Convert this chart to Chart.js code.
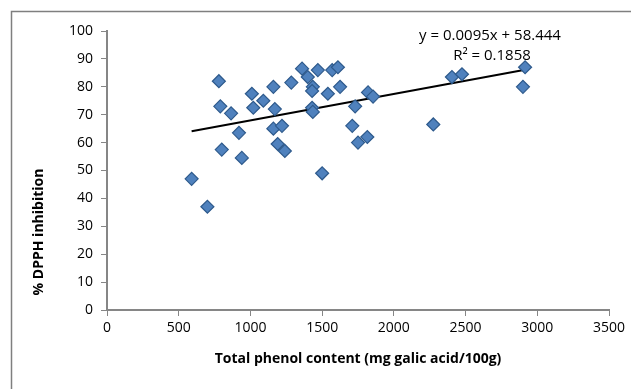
<!DOCTYPE html>
<html>
<head>
<meta charset="utf-8">
<script src="https://cdn.jsdelivr.net/npm/chart.js@4"></script>
<style>
  html, body { margin: 0; padding: 0; background: #fff; }
  #wrap { width: 631px; height: 389px; }
</style>
</head>
<body>
<div id="wrap"><canvas id="dpph-chart" width="631" height="389"></canvas></div>
<script>
// chart data

const phenolContent = [590, 700, 780, 790, 800, 865, 920, 940, 1010, 1020,
    1090, 1160, 1160, 1170, 1220, 1190, 1240, 1285, 1360, 1400,
    1470, 1435, 1430, 1540, 1625, 1570, 1610, 1430, 1435, 1730,
    1820, 1855, 1500, 1710, 1750, 1815, 2275, 2405, 2475, 2915, 2900];
const dpphInhibition = [47, 37, 82, 73, 57.5, 70.5, 63.5, 54.5, 77.5, 72.5,
    75, 80, 65, 72, 66, 59.5, 57, 81.5, 86.5, 83.5,
    86, 80, 78.5, 77.5, 80, 86, 87, 72.5, 71, 73,
    78, 76.5, 49, 66, 60, 62, 66.5, 83.5, 84.5, 87, 80];

const trendX = [590, 2915];
const trendY = [64.05, 86.14];

const equationText = 'y = 0.0095x + 58.444';
const r2Text = 'R² = 0.1858';
const xTitle = 'Total phenol content (mg galic acid/100g)';
const yTitle = '% DPPH inhibition';

const xTicks = [0, 500, 1000, 1500, 2000, 2500, 3000, 3500];
const yTicks = [0, 10, 20, 30, 40, 50, 60, 70, 80, 90, 100];

const font = "'Open Sans', 'Liberation Sans', sans-serif";

const points = phenolContent.map(function(x, i){ return {x: x, y: dpphInhibition[i]} });
const trend = trendX.map(function(x, i){ return {x: x, y: trendY[i]} });

// left/top border of the chart area box, plus axis titles and the equation
const decor = {
    id: 'decor',
    beforeDraw(chart) {
        const c = chart.ctx;
        c.save();
        c.strokeStyle = '#7f7f7f';
        c.lineWidth = 1.5;
        c.beginPath();
        c.moveTo(11.5, 389);
        c.lineTo(11.5, 11.5);
        c.lineTo(631, 11.5);
        c.stroke();
        c.restore();
    },
    afterDatasetsDraw(chart) {
        const c = chart.ctx;
        const a = chart.chartArea;
        c.save();
        c.fillStyle = '#000';
        c.textAlign = 'center';
        c.textBaseline = 'middle';
        c.font = '15px ' + font;
        c.fillText(equationText, 490, 36);
        c.fillText(r2Text, 492, 56);
        c.font = 'bold 14px ' + font;
        c.fillText(xTitle, (a.left + a.right) / 2, 359);
        c.translate(39, 232);
        c.rotate(-Math.PI / 2);
        c.fillText(yTitle, 0, 0);
        c.restore();
    }
};

const ctxDpph = document.getElementById('dpph-chart').getContext('2d');
const myChart = new Chart(ctxDpph, {
    type: 'scatter',
    data: {
        datasets: [
            {
                label: 'samples',
                data: points,
                pointStyle: 'rectRot',
                pointRadius: 6.5,
                backgroundColor: '#4F81BD',
                borderColor: '#2E5A8C',
                borderWidth: 1.2
            },
            {
                label: 'trend',
                type: 'line',
                data: trend,
                borderColor: '#000',
                borderWidth: 2,
                pointRadius: 0,
                fill: false
            }
        ]
    },
    options: {
        responsive: false,
        animation: false,
        events: [],
        layout: { padding: { left: 28, top: 31, right: 22, bottom: 0 } },
        plugins: { legend: { display: false }, tooltip: { enabled: false } },
        scales: {
            x: {
                type: 'linear',
                min: 0, max: 3500,
                afterBuildTicks: function(s){ s.ticks = xTicks.map(function(v){ return {value: v} }) },
                ticks: { color: '#000', font: { family: font, size: 14 }, padding: 4, maxRotation: 0,
                         callback: function(v){ return String(v) } },
                grid: { drawOnChartArea: false, tickLength: 6, color: '#868686', tickColor: '#868686' },
                border: { color: '#868686', width: 2 },
                afterFit: function(s){ s.height = 79 }
            },
            y: {
                type: 'linear',
                min: 0, max: 100,
                afterBuildTicks: function(s){ s.ticks = yTicks.map(function(v){ return {value: v} }) },
                ticks: { color: '#000', font: { family: font, size: 14 }, padding: 8,
                         callback: function(v){ return String(v) } },
                grid: { drawOnChartArea: false, tickLength: 6, color: '#868686', tickColor: '#868686' },
                border: { color: '#868686', width: 2 },
                afterFit: function(s){ s.width = 79 }
            }
        }
    },
    plugins: [decor]
});
</script>
</body>
</html>
